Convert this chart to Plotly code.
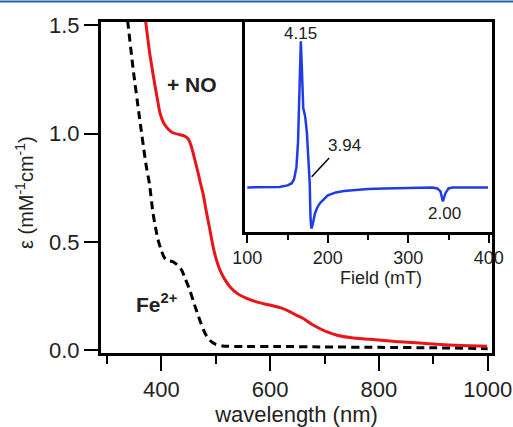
import plotly.graph_objects as go

# UV-vis data (wavelength nm, epsilon mM^-1 cm^-1)
red_wl = [366, 371, 378, 383, 388, 393, 397, 404, 412, 420, 434, 442, 449, 454, 458, 463,
          467.5, 472, 477, 483, 489, 495, 501, 507.5, 516, 526, 540, 557, 575, 594, 605,
          620, 635, 648, 661, 676, 692, 707, 723, 750, 784, 815, 845, 875, 907, 950, 999]
red_eps = [1.60, 1.52, 1.38, 1.30, 1.225, 1.155, 1.10, 1.05, 1.023, 1.005, 0.995, 0.99, 0.977,
           0.95, 0.915, 0.865, 0.82, 0.77, 0.72, 0.636, 0.56, 0.48, 0.42, 0.372, 0.33, 0.294,
           0.262, 0.24, 0.224, 0.212, 0.206, 0.196, 0.18, 0.163, 0.147, 0.122, 0.10, 0.083,
           0.07, 0.058, 0.051, 0.044, 0.039, 0.034, 0.028, 0.023, 0.019]

fe_wl = [335, 338, 348, 360, 372, 378, 384.5, 389, 393.7, 400, 406, 414, 421, 429, 437, 444,
         452, 461, 470.6, 480, 489, 500, 513, 550, 618, 700, 800, 900, 1000]
fe_eps = [1.58, 1.52, 1.30, 1.07, 0.853, 0.77, 0.636, 0.57, 0.512, 0.46, 0.426, 0.412, 0.41,
          0.395, 0.372, 0.33, 0.28, 0.21, 0.14, 0.08, 0.047, 0.028, 0.02, 0.018, 0.018, 0.016,
          0.014, 0.012, 0.008]

# EPR data (field mT, signal arb. units)
epr_field = [100, 120, 140, 150, 155, 158, 161, 163, 164.5, 165.5, 166.5, 167.5, 168.7, 169.5,
             170.5, 172, 174, 176, 177.5, 178.5, 179.5, 181, 184, 187, 190, 195, 200, 210, 220,
             235, 250, 270, 300, 320, 330, 336, 340, 343, 346, 350, 355, 370, 399]
epr_signal = [0, 0, 0.5, 2, 4, 8, 20, 45, 80, 120, 146, 125, 95, 79, 76, 70, 55, 30, 5, -30,
              -41, -38, -26, -20, -16, -12, -8, -5, -3.5, -2.5, -1.5, -1, -0.5, 0, 0, -1, -4,
              -14, -6, -1, 0, 0, 0]

main_xticks = [400, 600, 800, 1000]
main_yticks = [0.0, 0.5, 1.0, 1.5]
inset_xticks = [100, 200, 300, 400]

FONT = "Liberation Sans, Arial, sans-serif"
TXT = "#222222"
PLOT_W, PLOT_H = 391, 331
ML, MT = 101, 22

fig = go.Figure()
fig.add_trace(go.Scatter(x=fe_wl, y=fe_eps, mode="lines", line=dict(color="black", width=3, dash="8px,5px", shape="spline", smoothing=0.6),
                         xaxis="x", yaxis="y", showlegend=False))
fig.add_trace(go.Scatter(x=red_wl, y=red_eps, mode="lines", line=dict(color="#e8151b", width=3, shape="spline", smoothing=0.6),
                         xaxis="x", yaxis="y", showlegend=False))
fig.add_trace(go.Scatter(x=epr_field, y=epr_signal, mode="lines", line=dict(color="#1f3ce6", width=2.5),
                         xaxis="x2", yaxis="y2", showlegend=False))

fig.update_layout(
    width=513, height=427,
    margin=dict(l=ML, r=21, t=MT, b=74, autoexpand=False),
    paper_bgcolor="white", plot_bgcolor="white",
    font=dict(family=FONT, color=TXT),
    xaxis=dict(domain=[0, 1], range=[289, 1008], tickvals=main_xticks, ticks="outside", ticklen=15,
               tickwidth=2, tickcolor="black", showline=True, linewidth=3, linecolor="black", mirror=True,
               showgrid=False, zeroline=False, tickfont=dict(size=22, color=TXT), automargin=False,
               minor=dict(tickvals=[300, 500, 700, 900], ticks="outside", ticklen=8, tickwidth=2, tickcolor="black"),
               title=dict(text="wavelength (nm)", font=dict(size=22, color=TXT))),
    yaxis=dict(domain=[0, 1], range=[-0.012, 1.515], tickvals=main_yticks, tickformat=".1f", ticks="outside",
               ticklen=14, tickwidth=2, tickcolor="black", showline=True, linewidth=3, linecolor="black",
               mirror=True, showgrid=False, zeroline=False, tickfont=dict(size=22, color=TXT), automargin=False),
    xaxis2=dict(domain=[0.368, 1.0], anchor="y2", range=[97, 404], tickvals=inset_xticks, ticks="outside",
                ticklen=8, tickwidth=2, tickcolor="black", showline=True, linewidth=2.5, linecolor="black",
                showgrid=False, zeroline=False, tickfont=dict(size=18, color=TXT), automargin=False,
                minor=dict(tickvals=[150, 250, 350], ticks="outside", ticklen=5, tickwidth=2, tickcolor="black")),
    yaxis2=dict(domain=[0.366, 1.0], anchor="x2", range=[-44.4, 165.3], showticklabels=False, ticks="",
                showline=True, linewidth=2.5, linecolor="black", showgrid=False, zeroline=False, automargin=False),
)

# axis titles placed explicitly
fig.add_annotation(x=(24 - ML) / PLOT_W, y=(353 - 193) / PLOT_H, xref="paper", yref="paper",
                   text="ε (mM<sup>-1</sup>cm<sup>-1</sup>)", textangle=-90, showarrow=False,
                   xanchor="center", yanchor="middle", font=dict(size=20, color=TXT))
fig.add_annotation(x=266, y=(353 - 278) / PLOT_H, xref="x2", yref="paper", text="Field (mT)",
                   showarrow=False, xanchor="center", yanchor="middle", font=dict(size=18, color=TXT))

fig.add_annotation(x=455.9, y=1.225, xref="x", yref="y", text="<b>+ NO</b>", showarrow=False,
                   font=dict(size=21, color=TXT))
fig.add_annotation(x=391.5, y=0.22, xref="x", yref="y", text="<b>Fe<sup>2+</sup></b>", showarrow=False,
                   font=dict(size=21, color=TXT))
fig.add_annotation(x=165.5, y=154, xref="x2", yref="y2", text="4.15", showarrow=False,
                   font=dict(size=17, color=TXT))
fig.add_annotation(x=221, y=42, xref="x2", yref="y2", text="3.94", showarrow=False,
                   font=dict(size=17, color=TXT))
fig.add_annotation(x=345, y=-25.7, xref="x2", yref="y2", text="2.00", showarrow=False,
                   font=dict(size=17, color=TXT))
fig.add_shape(type="line", xref="x2", yref="y2", x0=201.7, y0=29.3, x1=180, y1=10.6,
              line=dict(color="black", width=1.5))
# thin blue rule at the very top of the figure
fig.add_shape(type="line", xref="paper", yref="paper", x0=-ML / PLOT_W, x1=1 + 21 / PLOT_W,
              y0=1 + 20.5 / PLOT_H, y1=1 + 20.5 / PLOT_H, line=dict(color="#1d62a8", width=2))

fig.write_html("out.html", config={"displayModeBar": False},
               post_script="document.body.style.margin='0';document.body.style.padding='0';")
